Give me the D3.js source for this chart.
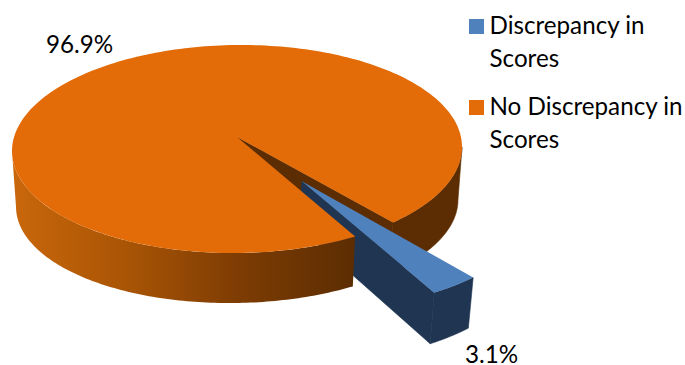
<!DOCTYPE html>
<html>
<head>
<meta charset="utf-8">
<script src="https://cdn.jsdelivr.net/npm/d3@7/dist/d3.min.js"></script>
<style>
  html, body { margin: 0; padding: 0; background: #fff; }
  svg { display: block; }
  text { font-family: Lato, "Open Sans", sans-serif; font-size: 24.2px; fill: #000; }
</style>
</head>
<body>
<svg id="chart" width="685" height="365"></svg>
<script>
const categories = ["Discrepancy in Scores", "No Discrepancy in Scores"];
const shares = [3.1, 96.9];
const shareLabels = ["3.1%", "96.9%"];
const legendLines = [["Discrepancy in", "Scores"], ["No Discrepancy in", "Scores"]];
const topColors = ["#4f81bd", "#e36c09"];
const sideColors = ["#1f3552", "#5c2d02"];

const svg = d3.select("#chart");

// Perspective camera: u/v lie in the pie's plane, z runs from top face (0) to base (1).
const camera = { x0: 237, y0: 137, ex: 223.5, ey: 86.8, tilt: -0.1154, dz: 0.018 };
// The main disc's base is a little flatter and leans slightly; the pulled-out slice drops straight down.
const discLens = { drop: 58.5, flatten: 0.1016, leanTop: -2, leanBase: -3.5 };
const sliceLens = { drop: 49.7, flatten: 0, leanTop: 0, leanBase: 0 };

function project(u, v, z, lens) {
  const w = 1 + camera.tilt * v + camera.dz * z;
  const lean = (lens.leanTop + (lens.leanBase - lens.leanTop) * z) * u;
  return [
    camera.x0 + camera.ex * u / w,
    (camera.y0 + camera.ey * v * (1 - lens.flatten * z) + lens.drop * z + lean) / w
  ];
}

// Slices start from the pie's lower right and run clockwise.
const pie = d3.pie().sort(null).startAngle(2.452).endAngle(2.452 + 2 * Math.PI);
const [smallSlice, largeSlice] = pie(shares);

const explode = 0.495;
const smallMid = (smallSlice.startAngle + smallSlice.endAngle) / 2;
const smallOffset = [explode * Math.sin(smallMid), -explode * Math.cos(smallMid)];
const noOffset = [0, 0];

// Angle at which the disc's outline turns away from the viewer on the right-hand side.
const silhouette = Math.acos(camera.tilt);

const rim = (a, off) => [off[0] + Math.sin(a), off[1] - Math.cos(a)];
const samples = (a0, a1, n = 120) => d3.range(n + 1).map(i => a0 + (a1 - a0) * i / n);
const path = pts => d3.line()(pts) + "Z";

// Outline of a slice's flat face at depth z.
function face(slice, off, z, lens) {
  const arc = samples(slice.startAngle, slice.endAngle, 240).map(a => project(...rim(a, off), z, lens));
  return path([project(off[0], off[1], z, lens), ...arc]);
}
// Curved outer wall between two angles.
function wall(a0, a1, off, lens) {
  const angles = samples(a0, a1);
  return path([
    ...angles.map(a => project(...rim(a, off), 0, lens)),
    ...angles.slice().reverse().map(a => project(...rim(a, off), 1, lens))
  ]);
}
// Flat cut face running from the slice's centre out to the rim.
function cut(a, off, lens) {
  const [u, v] = rim(a, off);
  return path([
    project(off[0], off[1], 0, lens), project(u, v, 0, lens),
    project(u, v, 1, lens), project(off[0], off[1], 1, lens)
  ]);
}
// Adjoining side faces get a hairline of their own colour so no seam shows between them.
function side(d, color) {
  svg.append("path").attr("d", d).attr("fill", color)
    .attr("stroke", color).attr("stroke-width", 0.6).attr("stroke-linejoin", "round");
}

// Front wall shading darkens steadily from the left edge to the gap.
const shade = svg.append("defs").append("linearGradient")
  .attr("id", "wallShade").attr("gradientUnits", "userSpaceOnUse")
  .attr("x1", project(-1, 0, 0, discLens)[0])
  .attr("x2", project(...rim(largeSlice.startAngle, noOffset), 0, discLens)[0])
  .attr("y1", 0).attr("y2", 0);
shade.selectAll("stop")
  .data([[0, "#c9670b"], [0.34, "#a85405"], [0.66, "#7d3c03"], [1, "#5c2d02"]])
  .join("stop").attr("offset", d => d[0]).attr("stop-color", d => d[1]);

const largeEnd = largeSlice.endAngle;   // upper edge of the gap, seen from inside
const fullTurn = 2 * Math.PI;

// Far side of the gap and the right-hand wall sit behind everything else.
side(wall(fullTurn + silhouette, largeEnd, noOffset, discLens), sideColors[1]);
side(cut(largeEnd, noOffset, discLens), sideColors[1]);

// Pulled-out slice.
side(cut(smallSlice.endAngle, smallOffset, sliceLens), sideColors[0]);
side(wall(smallSlice.startAngle, smallSlice.endAngle, smallOffset, sliceLens), sideColors[0]);
svg.append("path").attr("d", face(smallSlice, smallOffset, 0, sliceLens)).attr("fill", topColors[0]);

// Front wall and top of the large slice.
svg.append("path").attr("d", wall(largeSlice.startAngle, fullTurn - silhouette, noOffset, discLens)).attr("fill", "url(#wallShade)");
svg.append("path").attr("d", face(largeSlice, noOffset, 0, discLens)).attr("fill", topColors[1]);

// Value labels.
svg.append("text").attr("x", 46).attr("y", 53).text(shareLabels[1]);
svg.append("text").attr("x", 465).attr("y", 363).text(shareLabels[0]);

// Legend.
const legend = svg.append("g").selectAll("g").data(categories).join("g");
const rowY = d3.scalePoint().domain(categories).range([34, 115]);
legend.append("rect")
  .attr("x", 469).attr("y", d => rowY(d) - 15).attr("width", 15).attr("height", 15)
  .attr("fill", (d, i) => topColors[i]);
legend.append("text")
  .attr("y", d => rowY(d))
  .selectAll("tspan").data((d, i) => legendLines[i]).join("tspan")
  .attr("x", 489.5).attr("dy", (d, i) => i ? 33 : 0).text(d => d);
</script>
</body>
</html>
